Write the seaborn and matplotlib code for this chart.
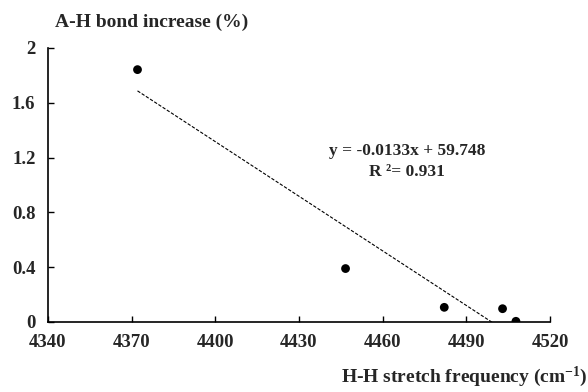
import numpy as np
import pandas as pd
import matplotlib
matplotlib.use("Agg")
import matplotlib.pyplot as plt
import seaborn as sns

# values
hh_freq = [4372.1, 4446.7, 4482.1, 4503.0, 4507.8]
ah_increase = [1.842, 0.390, 0.107, 0.097, 0.005]
x_ticks = [4340, 4370, 4400, 4430, 4460, 4490, 4520]
y_ticks = [0, 0.4, 0.8, 1.2, 1.6, 2]
y_tick_labels = ["0", "0.4", "0.8", "1.2", "1.6", "2"]
eq_text = "y = -0.0133x + 59.748"
r2_text = "R \u00b2= 0.931"

sns.set_style("ticks")
plt.rcParams['font.family'] = ['Liberation Serif', 'DejaVu Serif']
plt.rcParams['font.weight'] = 'bold'
plt.rcParams['mathtext.fontset'] = 'custom'
plt.rcParams['mathtext.rm'] = 'Liberation Serif:bold'
plt.rcParams['mathtext.bf'] = 'Liberation Serif:bold'
plt.rcParams['mathtext.default'] = 'bf'

df = pd.DataFrame({'freq': hh_freq, 'inc': ah_increase})

fig = plt.figure(figsize=(5.88, 3.92), dpi=100)
ax = fig.add_axes([0.0816, 0.1786, 0.8537, 0.699])

sns.scatterplot(data=df, x='freq', y='inc', ax=ax, color='black', s=40,
                edgecolor='none', zorder=3, legend=False)

# linear trendline, fitted from the points
slope, icpt = np.polyfit(df['freq'], df['inc'], 1)
xs = np.array([df['freq'].min(), df['freq'].max()])
ax.plot(xs, slope * xs + icpt, color='black', lw=0.8, ls=(0, (3, 1.5)), zorder=2)

ax.set_xlim(4340, 4520)
ax.set_ylim(0, 2)
ax.set_xticks(x_ticks)
ax.set_yticks(y_ticks)
ax.set_yticklabels(y_tick_labels)
ax.tick_params(direction='in', length=4, width=1, labelsize=13.5, pad=9, color='black')
for s in ['left', 'bottom']:
    ax.spines[s].set_linewidth(1.2)
    ax.spines[s].set_color('black')
sns.despine(ax=ax)

for lbl in ax.get_xticklabels() + ax.get_yticklabels():
    lbl.set_fontweight('bold')

ax.set_ylabel("A-H bond increase (%)", rotation=0, fontsize=14, fontweight='bold',
              ha='center', va='center')
ax.yaxis.set_label_coords(0.207, 1.095)
ax.set_xlabel("H-H stretch frequency (cm$^{-1}$)", fontsize=14,
              fontweight='bold', ha='right', va='center')
ax.xaxis.set_label_coords(1.074, -0.2007)

ax.text(0.715, 0.624, eq_text, transform=ax.transAxes, ha='center', va='center',
        fontsize=12.5, fontweight='bold')
ax.text(0.715, 0.547, r2_text, transform=ax.transAxes, ha='center', va='center',
        fontsize=12.5, fontweight='bold')

fig.savefig("out.png", dpi=100)
